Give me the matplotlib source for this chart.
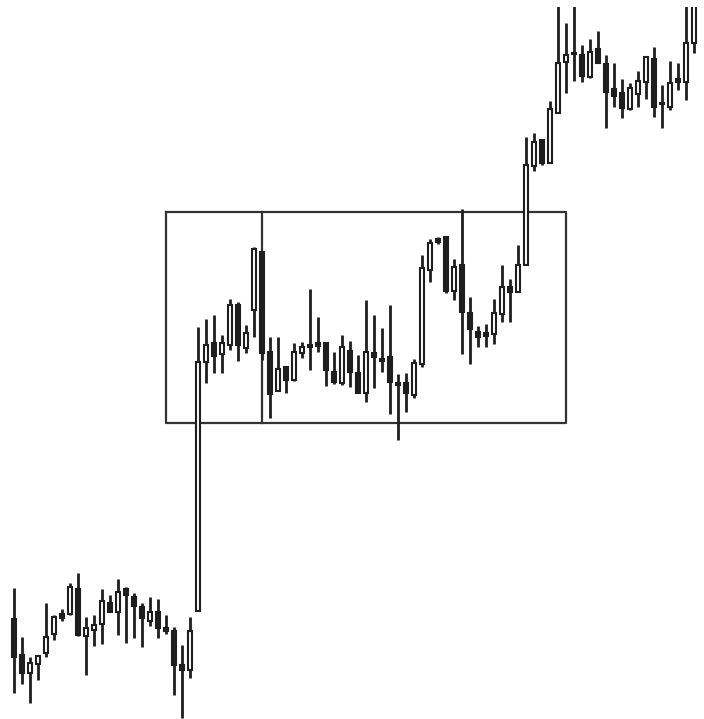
import numpy as np
import matplotlib
matplotlib.use("Agg")
import matplotlib.pyplot as plt

# OHLC series (arbitrary price units)
opens = [100, 64, 46, 55, 66, 85, 105, 105, 130, 83, 89, 95, 116, 107, 130, 122, 112, 98, 107, 91,
         88, 54, 49, 108, 357, 376, 365, 374, 414, 371, 409, 467, 367, 328, 352, 339, 366, 374, 376, 376,
         347, 336, 368, 346, 326, 366, 360, 362, 336, 336, 324, 355, 449, 480, 482, 428, 454, 406, 387, 386,
         385, 405, 432, 427, 454, 553, 579, 556, 606, 657, 666, 664, 642, 670, 655, 630, 626, 610, 625, 637,
         660, 616, 612, 640, 637, 676]
highs = [131, 82, 62, 64, 116, 104, 110, 136, 146, 102, 104, 130, 124, 140, 132, 126, 116, 122, 120, 104,
         92, 74, 102, 392, 400, 404, 384, 420, 417, 394, 472, 468, 382, 382, 353, 376, 377, 430, 402, 376,
         367, 384, 378, 364, 419, 404, 391, 414, 345, 346, 360, 464, 480, 482, 482, 460, 510, 422, 393, 395,
         420, 454, 440, 474, 582, 586, 580, 618, 725, 696, 725, 674, 680, 688, 664, 656, 640, 636, 648, 662,
         672, 634, 658, 656, 725, 725]
lows = [26, 35, 16, 39, 62, 79, 98, 104, 83, 44, 73, 75, 107, 84, 76, 81, 72, 93, 81, 85,
        24, 1, 41, 108, 336, 346, 346, 369, 358, 366, 382, 359, 301, 328, 326, 338, 361, 349, 367, 333,
        335, 334, 332, 326, 317, 331, 347, 305, 279, 307, 321, 352, 437, 475, 426, 419, 365, 355, 372, 372,
        375, 397, 397, 427, 454, 548, 554, 556, 606, 626, 638, 637, 641, 656, 591, 612, 601, 609, 612, 620,
        602, 591, 609, 629, 619, 666]
closes = [62, 46, 56, 63, 82, 102, 101, 132, 84, 91, 94, 118, 107, 127, 124, 113, 101, 107, 91, 88,
          54, 49, 88, 357, 374, 363, 376, 414, 374, 386, 470, 366, 325, 350, 339, 367, 372, 372, 373, 349,
          337, 372, 347, 326, 367, 362, 358, 337, 334, 326, 356, 451, 476, 477, 428, 452, 407, 390, 382, 383,
          406, 432, 427, 454, 554, 577, 556, 610, 656, 664, 665, 643, 667, 656, 627, 623, 611, 631, 638, 662,
          612, 615, 636, 637, 676, 725]

# consolidation box drawn on the chart
box_start, box_end, box_split = 19, 69, 31
box_top, box_bottom = 507, 296

x = np.arange(len(opens))
o = np.array(opens)
c = np.array(closes)
up = c >= o

ink = "#1e1e1e"

fig = plt.figure(figsize=(7.04, 7.19), dpi=100)
ax = fig.add_axes([0, 0, 1, 712 / 719])

# wicks, then bodies on top
ax.vlines(x, lows, highs, color=ink, linewidth=2.0, zorder=2)
ax.bar(x, np.abs(c - o), bottom=np.minimum(o, c), width=0.58,
       color=np.where(up, "white", ink), edgecolor=ink, linewidth=1.5, zorder=3)

ax.plot([box_start, box_end, box_end, box_start, box_start],
        [box_top, box_top, box_bottom, box_bottom, box_top],
        color="#333333", linewidth=1.6, zorder=1)
ax.plot([box_split, box_split], [box_bottom, box_top], color="#333333", linewidth=1.6, zorder=1)

ax.set_xlim(-1.75, 86.25)
ax.set_ylim(0, 712)
ax.axis("off")

fig.savefig("out.png", dpi=100, facecolor="white")
